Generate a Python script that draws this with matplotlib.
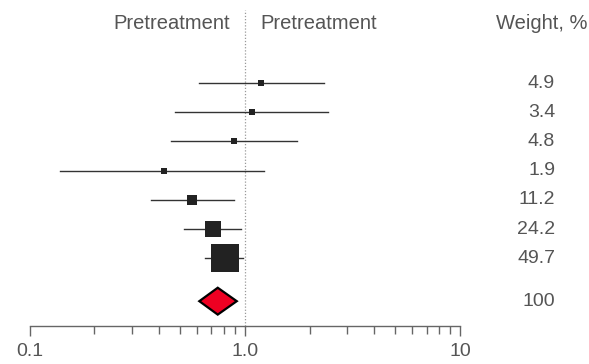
import matplotlib
matplotlib.use('Agg')
import matplotlib.pyplot as plt
import matplotlib.transforms as mtransforms
from matplotlib.patches import Polygon

plt.rcParams['font.family'] = ['Liberation Sans', 'DejaVu Sans']

# study estimates (odds ratios) with 95% CI
estimates = [1.19, 1.08, 0.89, 0.42, 0.57, 0.71, 0.81]
lower_ci = [0.61, 0.476, 0.456, 0.138, 0.365, 0.52, 0.654]
upper_ci = [2.34, 2.44, 1.75, 1.23, 0.89, 0.96, 0.98]
weights = [4.9, 3.4, 4.8, 1.9, 11.2, 24.2, 49.7]

# pooled estimate
pooled_est = 0.749
pooled_lo = 0.615
pooled_hi = 0.918
pooled_weight = 100

tick_values = [0.1, 1.0, 10]
tick_labels = ['0.1', '1.0', '10']
header_left = 'Pretreatment'
header_right = 'Pretreatment'
header_weight = 'Weight, %'

text_col = '#555555'

fig = plt.figure(figsize=(5.89, 3.64), dpi=100)
ax = fig.add_axes([0.0501, 0.1044, 0.7309, 0.8681])

ax.set_xscale('log')
ax.set_xlim(0.1, 10)
ax.set_ylim(8.32, -2.5)

rows = list(range(len(estimates)))
for y, est, lo, hi, w in zip(rows, estimates, lower_ci, upper_ci, weights):
    ax.plot([lo, hi], [y, y], color='#333333', lw=1.0, zorder=2)
    side_px = 4.05 + 0.502 * w
    ax.plot(est, y, marker='s', markersize=side_px * 0.72, color='#222222',
            markeredgewidth=0, zorder=3)

pooled_y = 7.47
h = 0.46
diamond = Polygon([(pooled_lo, pooled_y), (pooled_est, pooled_y - h),
                   (pooled_hi, pooled_y), (pooled_est, pooled_y + h)],
                  closed=True, facecolor='#ee0022', edgecolor='black',
                  lw=1.6, zorder=4)
ax.add_patch(diamond)

ax.axvline(1.0, color='#999999', lw=0.9, ls=(0, (1, 1.5)), zorder=1)

# axis styling
for s in ['top', 'right', 'left']:
    ax.spines[s].set_visible(False)
ax.spines['bottom'].set_color('#666666')
ax.spines['bottom'].set_linewidth(1.0)
ax.set_yticks([])
ax.set_xticks(tick_values)
ax.set_xticklabels(tick_labels)
ax.tick_params(axis='x', which='major', length=7, width=1.0, color='#666666',
               labelsize=14, labelcolor=text_col, pad=5)
ax.tick_params(axis='x', which='minor', length=6, width=1.0, color='#666666')

# headers
fs = 14.5
ax.text(0.854, -2.05, header_left, ha='right', va='center', fontsize=fs, color=text_col)
ax.text(1.178, -2.05, header_right, ha='left', va='center', fontsize=fs, color=text_col)

trans = mtransforms.blended_transform_factory(fig.transFigure, ax.transData)
ax.text(587 / 589, -2.05, header_weight, ha='right', va='center', fontsize=fs,
        color=text_col, transform=trans, clip_on=False)
for y, w in zip(rows, weights):
    ax.text(555 / 589, y, f'{w}', ha='right', va='center', fontsize=14,
            color=text_col, transform=trans, clip_on=False)
ax.text(555 / 589, pooled_y, f'{pooled_weight}', ha='right', va='center', fontsize=14,
        color=text_col, transform=trans, clip_on=False)

fig.savefig('out.png', dpi=100)
